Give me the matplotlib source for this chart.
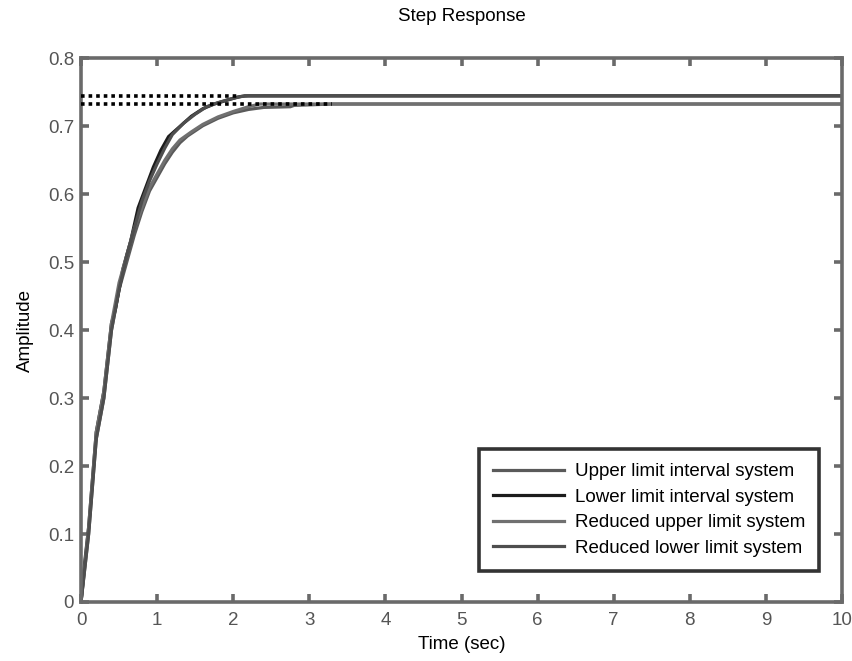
import matplotlib
matplotlib.use("Agg")
import matplotlib.pyplot as plt

plt.rcParams["font.family"] = ["Liberation Sans", "DejaVu Sans"]

# step responses (time in sec, amplitude)
T_LOWER = [0, 0.05, 0.1, 0.2, 0.3, 0.4, 0.45, 0.55, 0.65, 0.75, 0.85, 0.95,
           1.05, 1.15, 1.3, 1.45, 1.6, 1.75, 1.9, 2.05, 2.15, 10]
Y_LOWER = [0, 0.06, 0.11, 0.25, 0.31, 0.41, 0.43, 0.49, 0.53, 0.58, 0.61, 0.64,
           0.665, 0.685, 0.70, 0.715, 0.726, 0.733, 0.738, 0.743, 0.745, 0.745]

T_RED_LOWER = [0, 0.05, 0.1, 0.2, 0.3, 0.4, 0.5, 0.6, 0.7, 0.8, 0.9, 1.0,
               1.1, 1.2, 1.35, 1.5, 1.65, 1.8, 1.95, 2.1, 2.2, 10]
Y_RED_LOWER = [0, 0.05, 0.10, 0.24, 0.30, 0.40, 0.46, 0.51, 0.55, 0.59, 0.62, 0.645,
               0.668, 0.688, 0.705, 0.718, 0.729, 0.735, 0.740, 0.744, 0.745, 0.745]

T_UPPER = [0, 0.05, 0.1, 0.2, 0.3, 0.4, 0.5, 0.6, 0.7, 0.8, 0.9, 1.0, 1.1,
           1.2, 1.3, 1.4, 1.6, 1.8, 2.0, 2.2, 2.4, 2.75, 2.8, 3.3, 10]
Y_UPPER = [0, 0.05, 0.10, 0.24, 0.30, 0.40, 0.46, 0.50, 0.54, 0.575, 0.605, 0.625, 0.645,
           0.662, 0.676, 0.686, 0.701, 0.712, 0.720, 0.725, 0.728, 0.729, 0.731, 0.733, 0.733]

T_RED_UPPER = [0, 0.05, 0.1, 0.2, 0.3, 0.4, 0.5, 0.6, 0.7, 0.8, 0.9, 1.0, 1.1,
               1.2, 1.3, 1.45, 1.6, 1.8, 2.0, 2.2, 2.35, 10]
Y_RED_UPPER = [0, 0.055, 0.11, 0.25, 0.31, 0.41, 0.47, 0.51, 0.55, 0.58, 0.61, 0.63, 0.65,
               0.667, 0.68, 0.692, 0.703, 0.714, 0.722, 0.729, 0.733, 0.733]

# steady-state dotted markers: (level, time reached)
SS_HIGH = (0.745, 2.05)
SS_LOW = (0.733, 3.3)

LABELS = ["Upper limit interval system", "Lower limit interval system",
          "Reduced upper limit system", "Reduced lower limit system"]
COLORS = ["#5a5a5a", "#1c1c1c", "#707070", "#4e4e4e"]
AXIS_GRAY = "#6a6a6a"

fig = plt.figure(figsize=(8.52, 6.61), dpi=100)
ax = fig.add_axes([0.0951, 0.0893, 0.8932, 0.8222])

series = [(T_UPPER, Y_UPPER), (T_LOWER, Y_LOWER),
          (T_RED_UPPER, Y_RED_UPPER), (T_RED_LOWER, Y_RED_LOWER)]
for (t, y), lab, c in zip(series, LABELS, COLORS):
    ax.plot(t, y, color=c, linewidth=2.3, label=lab, solid_joinstyle="miter")

for level, t_end in (SS_HIGH, SS_LOW):
    ax.plot([0, t_end], [level, level], color="black", linewidth=2.6,
            linestyle=(0, (1, 1.1)), zorder=3)

ax.set_xlim(0, 10)
ax.set_ylim(0, 0.8)
ax.set_xticks(range(0, 11))
ax.set_yticks([i / 10 for i in range(9)])
ax.set_yticklabels(["0"] + [f"{i / 10:.1f}" for i in range(1, 9)])

for s in ax.spines.values():
    s.set_color(AXIS_GRAY)
    s.set_linewidth(2.6)
ax.tick_params(direction="in", length=6, width=2.6, color=AXIS_GRAY,
               labelcolor="#555555", labelsize=13.5, top=True, right=True)
ax.tick_params(axis="x", pad=7)
ax.tick_params(axis="y", pad=5)

ax.set_xlabel("Time (sec)", fontsize=13.5, labelpad=5)
ax.set_ylabel("Amplitude", fontsize=13.5, labelpad=10)
ax.set_title("Step Response", fontsize=13.5, pad=27)

leg = ax.legend(loc="lower right", bbox_to_anchor=(0.970, 0.057), fontsize=13.5,
                frameon=True, fancybox=False, handlelength=3.8, handletextpad=0.55,
                borderpad=0.75, labelspacing=0.45, borderaxespad=0)
leg.get_frame().set_edgecolor("black")
leg.get_frame().set_linewidth(2.6)

fig.savefig("out.png", dpi=100)
